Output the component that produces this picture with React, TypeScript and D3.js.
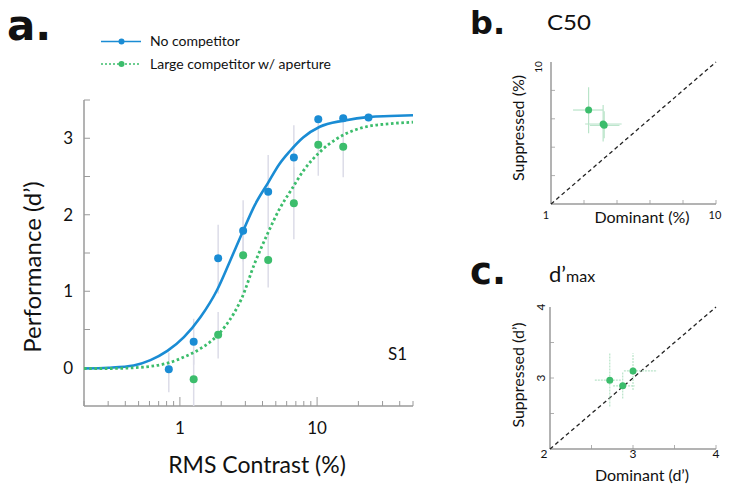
import React from "react";
import * as d3 from "d3";

// ---------- Panel a data ----------
const blueC = [0.83, 1.26, 1.9, 2.89, 4.4, 6.77, 10.2, 15.5, 23.7];
const blueD = [-0.02, 0.34, 1.43, 1.79, 2.3, 2.75, 3.25, 3.26, 3.27];
const blueLo = [-0.32, 0.04, 0.97, 1.39, 1.82, 2.33, 3.2, 3.21, 3.22];
const blueHi = [0.2, 0.64, 1.87, 2.19, 2.78, 3.17, 3.3, 3.31, 3.32];

const greenC = [1.26, 1.9, 2.89, 4.4, 6.77, 10.2, 15.5];
const greenD = [-0.15, 0.43, 1.47, 1.41, 2.15, 2.915, 2.89];
const greenLo = [-0.5, 0.12, 0.97, 1.05, 1.68, 2.51, 2.49];
const greenHi = [0.15, 0.73, 1.97, 1.77, 2.62, 3.3, 3.3];

// fitted curves
const blueFitC = [0.2, 0.3, 0.46, 0.61, 0.81, 1.07, 1.41, 1.87, 2.3, 2.89, 3.5, 4.4, 5.3, 6.32, 7.91, 10.46, 15.5, 24.2, 34, 50];
const blueFitD = [-0.01, 0.0, 0.03, 0.1, 0.22, 0.4, 0.66, 1.02, 1.38, 1.79, 2.12, 2.42, 2.66, 2.83, 3.01, 3.15, 3.23, 3.28, 3.29, 3.3];
const greenFitC = [0.2, 0.3, 0.46, 0.81, 1.07, 1.41, 1.87, 2.47, 2.81, 3.5, 4.4, 5.3, 6.51, 7.91, 10.46, 13.8, 18.3, 24.2, 33.9, 50];
const greenFitD = [-0.01, -0.01, 0.0, 0.06, 0.14, 0.25, 0.42, 0.71, 0.9, 1.36, 1.77, 2.07, 2.33, 2.57, 2.82, 2.99, 3.1, 3.16, 3.19, 3.21];

const xTickLabels = [1, 10];
const yTickLabels = [0, 1, 2, 3];

// ---------- Panel b data (C50, %) ----------
const bDom = [1.69, 2.07, 2.1];
const bSup = [4.59, 3.66, 3.58];
const bDomLo = [1.36, 1.61, 1.72];
const bDomHi = [2.07, 2.68, 2.6];
const bSupLo = [3.15, 2.75, 2.9];
const bSupHi = [6.63, 4.98, 4.5];
const bTicks = [1.585, 2.512, 3.981, 6.31];

// ---------- Panel c data (d'max) ----------
const cDom = [2.72, 2.876, 3.0];
const cSup = [2.97, 2.89, 3.1];
const cDomLo = [2.54, 2.76, 2.89];
const cDomHi = [2.86, 3.02, 3.29];
const cSupLo = [2.6, 2.71, 2.83];
const cSupHi = [3.35, 3.09, 3.35];
const cTicks = [2.5, 3, 3.5];

const BLUE = "#1a8cd4";
const GREEN = "#3cbd6c";
const ERR = "#dcdce8";
const ERRG = "#b9e4c9";
const AX = "#9a9a9a";
const FONT = "Lato, 'Noto Sans', sans-serif";
const BIG = "'DejaVu Sans', Lato, sans-serif";

export default function App() {
  const x = d3.scaleLog().domain([0.2, 50]).range([84, 413]);
  const y = d3.scaleLinear().domain([-0.5, 3.5]).range([406, 100]);

  const lineFit = (cs: number[], ds: number[]) =>
    d3
      .line<number>()
      .x((_, i) => x(cs[i]))
      .y((d) => y(d))
      .curve(d3.curveMonotoneX)(ds) as string;

  const xt = x.ticks();
  const isMajor = (t: number) => Math.abs(Math.log10(t) - Math.round(Math.log10(t))) < 1e-6;
  const yt = y.ticks(8).filter((t) => t > -0.5);

  // panel b
  const xb = d3.scaleLog().domain([1, 10]).range([551, 716]);
  const yb = d3.scaleLog().domain([1, 10]).range([204, 62]);
  // panel c
  const xc = d3.scaleLinear().domain([2, 4]).range([550, 716]);
  const yc = d3.scaleLinear().domain([2, 4]).range([449, 307]);

  return (
    <svg
      width={729}
      height={496}
      style={{ position: "absolute", left: 0, top: 0, background: "#fff" }}
      fontFamily={FONT}
    >
      {/* ===== Panel a ===== */}
      <text x={7} y={40} fontSize={42} fontWeight={700} fontFamily={BIG} fill="#111">a.</text>

      {/* legend */}
      <line x1={101} x2={141} y1={41.5} y2={41.5} stroke={BLUE} strokeWidth={1.6} />
      <circle cx={121.5} cy={41.5} r={3} fill={BLUE} />
      <text x={150} y={46} fontSize={14} fill="#111">No competitor</text>
      <line x1={101} x2={141} y1={64} y2={64} stroke={GREEN} strokeWidth={1.6} strokeDasharray="2 2" />
      <circle cx={121.5} cy={64} r={3} fill={GREEN} />
      <text x={150} y={68.5} fontSize={14} fill="#111">Large competitor w/ aperture</text>

      {/* axes */}
      <line x1={84} x2={84} y1={100} y2={406} stroke={AX} strokeWidth={1.5} />
      <line x1={84} x2={413} y1={406} y2={406} stroke={AX} strokeWidth={1.5} />
      {yt.map((t) => (
        <line key={"yt" + t} x1={84} x2={90} y1={y(t)} y2={y(t)} stroke={AX} strokeWidth={1} />
      ))}
      {xt.map((t) => (
        <line
          key={"xt" + t}
          x1={x(t)}
          x2={x(t)}
          y1={406}
          y2={406 - (isMajor(t) ? 9 : 5)}
          stroke={AX}
          strokeWidth={1}
        />
      ))}
      {yTickLabels.map((t) => (
        <text key={"yl" + t} x={73} y={y(t) + 6} fontSize={17} textAnchor="end" fill="#111">
          {t}
        </text>
      ))}
      {xTickLabels.map((t) => (
        <text key={"xl" + t} x={x(t)} y={434} fontSize={17} textAnchor="middle" fill="#111">
          {t}
        </text>
      ))}
      <text x={257} y={473} fontSize={23} textAnchor="middle" fill="#111">RMS Contrast (%)</text>
      <text transform="translate(41,267) rotate(-90)" fontSize={24} textAnchor="middle" fill="#111">
        Performance (d’)
      </text>
      <text x={388} y={360} fontSize={17} fill="#111">S1</text>

      {/* error bars */}
      {blueC.map((c, i) => (
        <line key={"be" + i} x1={x(c)} x2={x(c)} y1={y(blueLo[i])} y2={y(blueHi[i])} stroke={ERR} strokeWidth={1.5} />
      ))}
      {greenC.map((c, i) => (
        <line key={"ge" + i} x1={x(c)} x2={x(c)} y1={y(greenLo[i])} y2={y(greenHi[i])} stroke={ERR} strokeWidth={1.5} />
      ))}

      {/* curves */}
      <path d={lineFit(blueFitC, blueFitD)} fill="none" stroke={BLUE} strokeWidth={2.6} />
      <path d={lineFit(greenFitC, greenFitD)} fill="none" stroke={GREEN} strokeWidth={2.8} strokeDasharray="2.6 2.6" />

      {/* points */}
      {greenC.map((c, i) => (
        <circle key={"gp" + i} cx={x(c)} cy={y(greenD[i])} r={4} fill={GREEN} />
      ))}
      {blueC.map((c, i) => (
        <circle key={"bp" + i} cx={x(c)} cy={y(blueD[i])} r={4} fill={BLUE} />
      ))}

      {/* ===== Panel b ===== */}
      <text x={470} y={34} fontSize={32} fontWeight={700} fontFamily={BIG} fill="#111">b.</text>
      <text x={547} y={30} fontSize={22} textLength={44} lengthAdjust="spacingAndGlyphs" fill="#111">C50</text>
      <line x1={xb(1)} x2={xb(1)} y1={yb(10)} y2={yb(1)} stroke={AX} strokeWidth={1.5} />
      <line x1={xb(1)} x2={xb(10)} y1={yb(1)} y2={yb(1)} stroke={AX} strokeWidth={1.5} />
      {bTicks.map((t) => (
        <g key={"bt" + t}>
          <line x1={xb(1)} x2={xb(1) + 4} y1={yb(t)} y2={yb(t)} stroke={AX} strokeWidth={0.8} />
          <line x1={xb(t)} x2={xb(t)} y1={yb(1)} y2={yb(1) - 4} stroke={AX} strokeWidth={0.8} />
        </g>
      ))}
      <line x1={xb(10)} x2={xb(10)} y1={yb(1)} y2={yb(1) - 4} stroke={AX} strokeWidth={0.8} />
      <line x1={xb(1)} x2={xb(10)} y1={yb(1)} y2={yb(10)} stroke="#222" strokeWidth={1.3} strokeDasharray="4 3" />
      <text x={xb(1) - 5} y={219} fontSize={11} textAnchor="middle" fill="#111">1</text>
      <text x={xb(10) - 1} y={219} fontSize={11} textAnchor="middle" fill="#111">10</text>
      <text transform={`translate(${xb(1) - 9},${yb(10) + 5}) rotate(-90)`} fontSize={10} textAnchor="middle" fill="#111">10</text>
      <text transform="translate(524,128) rotate(-90)" fontSize={16} textAnchor="middle" fill="#111">Suppressed (%)</text>
      <text x={642} y={223} fontSize={16} textAnchor="middle" fill="#111">Dominant (%)</text>
      {bDom.map((d, i) => (
        <g key={"bpe" + i}>
          <line x1={xb(bDomLo[i])} x2={xb(bDomHi[i])} y1={yb(bSup[i])} y2={yb(bSup[i])} stroke={ERRG} strokeWidth={1.2} />
          <line x1={xb(d)} x2={xb(d)} y1={yb(bSupLo[i])} y2={yb(bSupHi[i])} stroke={ERRG} strokeWidth={1.2} />
        </g>
      ))}
      {bDom.map((d, i) => (
        <circle key={"bpp" + i} cx={xb(d)} cy={yb(bSup[i])} r={3.5} fill={GREEN} />
      ))}

      {/* ===== Panel c ===== */}
      <text x={470} y={284} fontSize={37} fontWeight={700} fontFamily={BIG} fill="#111">c.</text>
      <text x={549} y={282} fill="#111">
        <tspan fontSize={22}>d’</tspan>
        <tspan fontSize={16}>max</tspan>
      </text>
      <line x1={xc(2)} x2={xc(2)} y1={yc(4)} y2={yc(2)} stroke={AX} strokeWidth={1.5} />
      <line x1={xc(2)} x2={xc(4)} y1={yc(2)} y2={yc(2)} stroke={AX} strokeWidth={1.5} />
      {cTicks.map((t) => (
        <g key={"ct" + t}>
          <line x1={xc(2)} x2={xc(2) + 4} y1={yc(t)} y2={yc(t)} stroke={AX} strokeWidth={0.8} />
          <line x1={xc(t)} x2={xc(t)} y1={yc(2)} y2={yc(2) - 4} stroke={AX} strokeWidth={0.8} />
        </g>
      ))}
      <line x1={xc(4)} x2={xc(4)} y1={yc(2)} y2={yc(2) - 4} stroke={AX} strokeWidth={0.8} />
      <line x1={xc(2)} x2={xc(4)} y1={yc(2)} y2={yc(4)} stroke="#222" strokeWidth={1.3} strokeDasharray="4 3" />
      {[2, 3, 4].map((t) => (
        <text key={"cxl" + t} x={xc(t) - (t === 2 ? 6 : 0)} y={458} fontSize={12} textAnchor="middle" fill="#111">
          {t}
        </text>
      ))}
      {[3, 4].map((t) => (
        <text key={"cyl" + t} transform={`translate(${xc(2) - 5},${yc(t)}) rotate(-90)`} fontSize={12} textAnchor="middle" fill="#111">
          {t}
        </text>
      ))}
      <text transform="translate(524,375) rotate(-90)" fontSize={16} textAnchor="middle" fill="#111">Suppressed  (d’)</text>
      <text x={642} y={481} fontSize={16} textAnchor="middle" fill="#111">Dominant (d’)</text>
      {cDom.map((d, i) => (
        <g key={"cpe" + i}>
          <line x1={xc(cDomLo[i])} x2={xc(cDomHi[i])} y1={yc(cSup[i])} y2={yc(cSup[i])} stroke={ERRG} strokeWidth={1.2} strokeDasharray="2 1" />
          <line x1={xc(d)} x2={xc(d)} y1={yc(cSupLo[i])} y2={yc(cSupHi[i])} stroke={ERRG} strokeWidth={1.2} strokeDasharray="2 1" />
        </g>
      ))}
      {cDom.map((d, i) => (
        <circle key={"cpp" + i} cx={xc(d)} cy={yc(cSup[i])} r={3.5} fill={GREEN} />
      ))}
    </svg>
  );
}
